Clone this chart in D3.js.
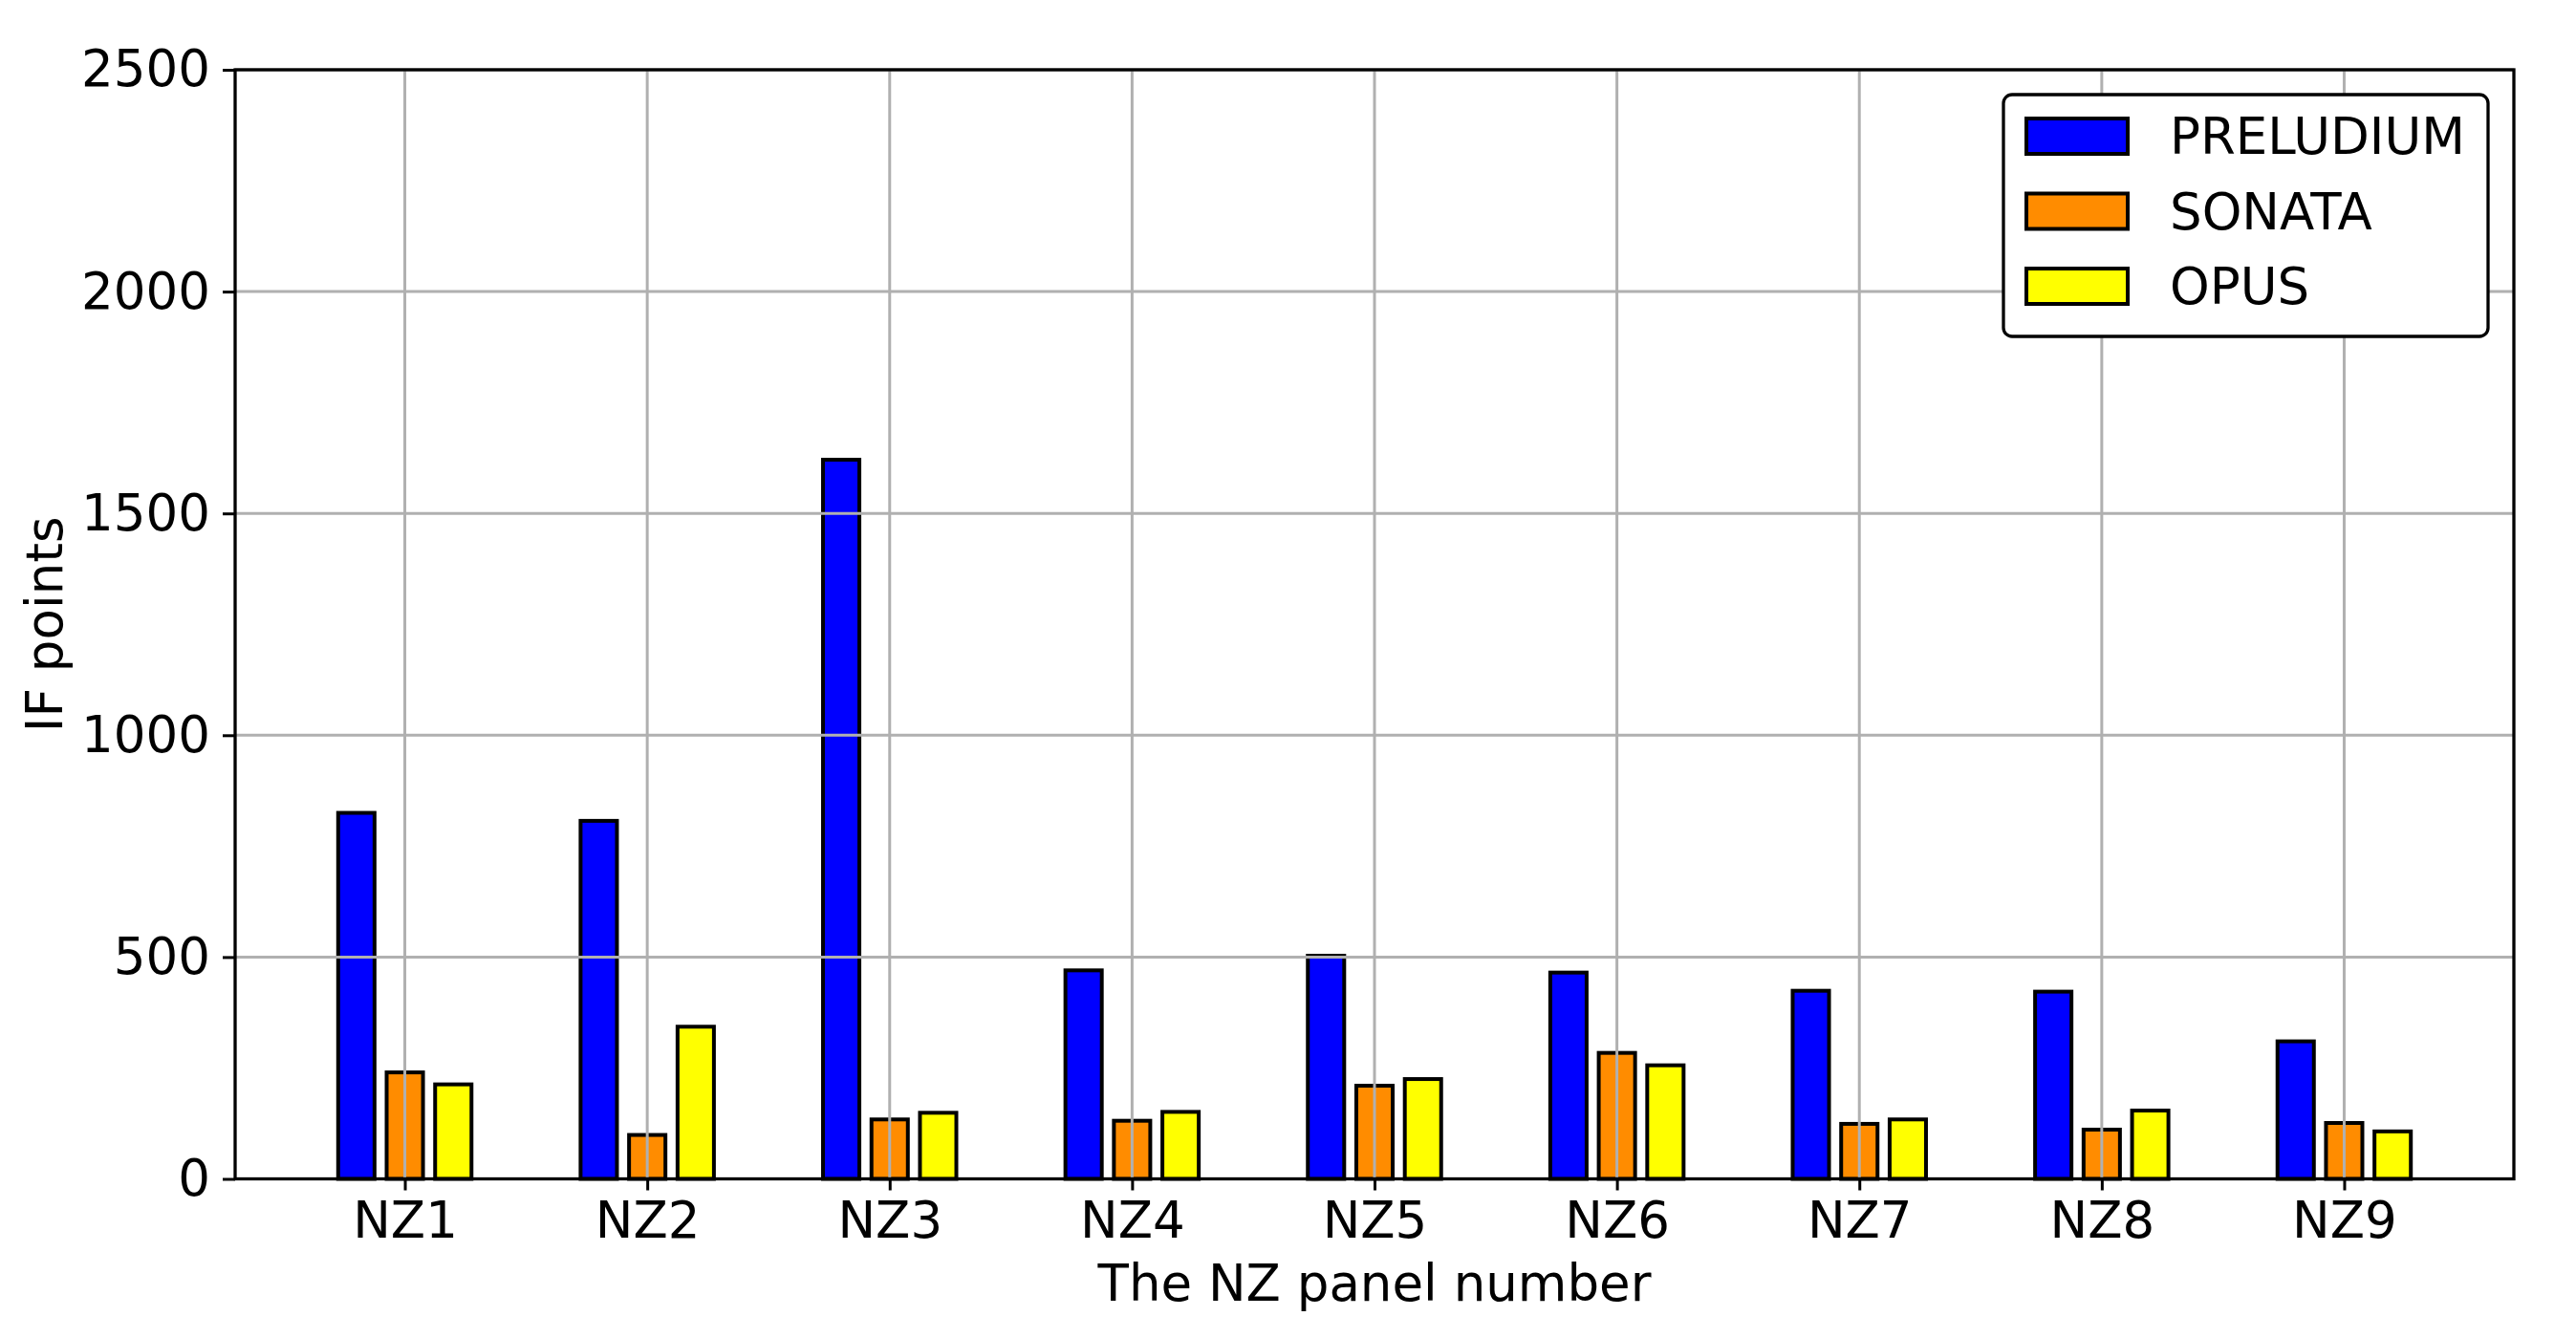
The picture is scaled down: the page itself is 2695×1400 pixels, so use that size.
<!DOCTYPE html>
<html>
<head>
<meta charset="utf-8">
<script src="https://cdn.jsdelivr.net/npm/d3@7"></script>
<style>
  body { margin: 0; background: #fff; }
  text { font-family: "DejaVu Sans", sans-serif; }
</style>
</head>
<body>
<div id="chart"></div>
<script>
// data
const panels = ["NZ1", "NZ2", "NZ3", "NZ4", "NZ5", "NZ6", "NZ7", "NZ8", "NZ9"];
const seriesNames = ["PRELUDIUM", "SONATA", "OPUS"];
const prelude = [825, 807, 1621, 470, 503, 465, 424, 422, 310];
const sonata = [240, 99, 134, 131, 210, 284, 124, 111, 126];
const opus = [213, 343, 149, 151, 225, 256, 134, 154, 107];
const yTicks = [0, 500, 1000, 1500, 2000, 2500];

const colors = ["#0000ff", "#ff8c00", "#ffff00"];
const series = [prelude, sonata, opus];

const W = 2695, H = 1400;
const margin = { top: 73, right: 65, bottom: 166.5, left: 246 };
const fontSize = 53;

const svg = d3.select("#chart")
  .append("svg")
  .attr("width", W)
  .attr("height", H);

const x = d3.scaleLinear()
  .domain([-0.7, 8.7])
  .range([margin.left, W - margin.right]);

const y = d3.scaleLinear()
  .domain([0, 2500])
  .range([H - margin.bottom, margin.top]);

const barW = 0.15, offset = 0.2;

// bars
series.forEach((vals, s) => {
  svg.append("g")
    .selectAll("rect")
    .data(vals)
    .join("rect")
    .attr("x", (d, i) => x(i + (s - 1) * offset - barW / 2))
    .attr("width", x(barW) - x(0))
    .attr("y", d => y(d))
    .attr("height", d => y(0) - y(d))
    .attr("fill", colors[s])
    .attr("stroke", "#000")
    .attr("stroke-width", 4);
});

// grid (drawn over bars, like matplotlib)
const grid = svg.append("g").attr("stroke", "#b0b0b0").attr("stroke-width", 3);
grid.selectAll(".vg")
  .data(d3.range(panels.length))
  .join("line")
  .attr("x1", d => x(d)).attr("x2", d => x(d))
  .attr("y1", y(0)).attr("y2", y(2500));
grid.selectAll(".hg")
  .data(yTicks)
  .join("line")
  .attr("x1", x(-0.7)).attr("x2", x(8.7))
  .attr("y1", d => y(d)).attr("y2", d => y(d));

// axes
const xAxis = d3.axisBottom(x)
  .tickValues(d3.range(panels.length))
  .tickFormat(i => panels[i])
  .tickSize(12)
  .tickPadding(12);

const yAxis = d3.axisLeft(y)
  .tickValues(yTicks)
  .tickFormat(d3.format("d"))
  .tickSize(13)
  .tickPadding(13);

const gx = svg.append("g")
  .attr("transform", `translate(0, ${y(0)})`)
  .call(xAxis);
const gy = svg.append("g")
  .attr("transform", `translate(${x(-0.7)}, 0)`)
  .call(yAxis);

[gx, gy].forEach(g => {
  g.select(".domain").remove();
  g.selectAll(".tick line").attr("stroke", "#000").attr("stroke-width", 3);
  g.selectAll(".tick text")
    .attr("fill", "#000")
    .style("font-size", fontSize + "px")
    .style("font-family", "DejaVu Sans");
});

// frame
svg.append("rect")
  .attr("x", x(-0.7))
  .attr("y", y(2500))
  .attr("width", x(8.7) - x(-0.7))
  .attr("height", y(0) - y(2500))
  .attr("fill", "none")
  .attr("stroke", "#000")
  .attr("stroke-width", 3.3);

// axis labels
svg.append("text")
  .attr("x", (x(-0.7) + x(8.7)) / 2)
  .attr("y", 1361)
  .attr("text-anchor", "middle")
  .style("font-size", fontSize + "px")
  .text("The NZ panel number");

svg.append("text")
  .attr("transform", `translate(65, ${(y(0) + y(2500)) / 2}) rotate(-90)`)
  .attr("text-anchor", "middle")
  .style("font-size", fontSize + "px")
  .text("IF points");

// legend
const legend = svg.append("g");
legend.append("rect")
  .attr("x", 2096)
  .attr("y", 99)
  .attr("width", 507)
  .attr("height", 253)
  .attr("rx", 9)
  .attr("fill", "#fff")
  .attr("stroke", "#000")
  .attr("stroke-width", 3.3);

seriesNames.forEach((name, i) => {
  const row = legend.append("g").attr("transform", `translate(0, ${i * 78.5})`);
  row.append("rect")
    .attr("x", 2120)
    .attr("y", 124)
    .attr("width", 106)
    .attr("height", 37)
    .attr("fill", colors[i])
    .attr("stroke", "#000")
    .attr("stroke-width", 4);
  row.append("text")
    .attr("x", 2270)
    .attr("y", 161)
    .style("font-size", fontSize + "px")
    .text(name);
});
</script>
</body>
</html>
